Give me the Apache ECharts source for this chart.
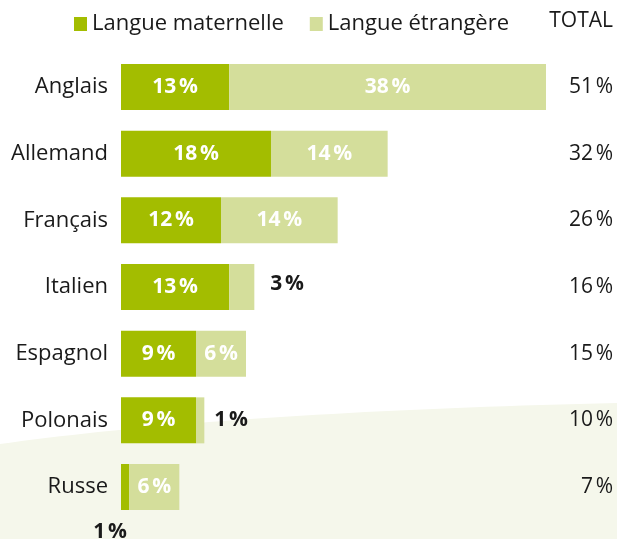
<!DOCTYPE html>
<html><head><meta charset="utf-8">
<script src="https://cdn.jsdelivr.net/npm/echarts@6/dist/echarts.min.js"></script>
<style>html,body{margin:0;padding:0;background:#fff}#c{width:617px;height:539px}</style>
</head><body><div id="c"></div>
<script>
const categories = ['Anglais','Allemand','Français','Italien','Espagnol','Polonais','Russe'];
const maternelle = [13, 18, 12, 13, 9, 9, 1];
const etrangere = [38, 14, 14, 3, 6, 1, 6];
const totals = [51, 32, 26, 16, 15, 10, 7];
const seriesNames = ['Langue maternelle', 'Langue étrangère'];
const totalTitle = 'TOTAL';

const FONT = '"Open Sans", sans-serif';
const DARK = '#a3bd00', LIGHT = '#d4de9b';
const pct = v => v + '\u202F%';
// label placement overrides for small segments (style, not data)
const outside = {
  m: {6: {position: 'bottom', offset: [-15, 6], color: '#1a1a1a'}},
  e: {3: {position: 'right', distance: 16, offset: [0, -3], color: '#1a1a1a'}, 5: {position: 'right', distance: 10, color: '#1a1a1a'}}
};
function items(vals, key) {
  return vals.map((v, i) => {
    const o = outside[key][i];
    return o ? {value: v, label: Object.assign({show: true}, o)} : v;
  });
}
// decorative background curve (quadratic bezier sampled)
const bgPts = [];
for (let k = 0; k <= 40; k++) {
  const t = k / 40;
  const x = 2 * (1 - t) * t * 230 + t * t * 617;
  const y = (1 - t) * (1 - t) * 444 + 2 * (1 - t) * t * 412 + t * t * 403;
  bgPts.push([x, y]);
}
bgPts.push([617, 539], [0, 539]);

const chart = echarts.init(document.getElementById('c'), null, {renderer: 'canvas'});
const W = 8.333;
chart.setOption({
  animation: false,
  textStyle: {fontFamily: FONT},
  graphic: [
    {type: 'polygon', z: -10, silent: true, shape: {points: bgPts}, style: {fill: '#f5f7eb'}},
    {type: 'text', right: 4, top: 11, style: {text: totalTitle, font: '21px ' + FONT, fill: '#1a1a1a'}}
  ],
  legend: {
    left: 69, top: 8, icon: 'rect', itemWidth: 13, itemHeight: 14, itemGap: 26,
    textStyle: {fontSize: 22, color: '#1a1a1a', fontFamily: FONT},
    data: seriesNames
  },
  grid: {left: 121, top: 87 - 33.33, width: W * 55, height: 66.67 * 7},
  xAxis: {type: 'value', min: 0, max: 55, show: false},
  yAxis: [
    {type: 'category', inverse: true, data: categories,
     axisLine: {show: false}, axisTick: {show: false},
     axisLabel: {fontSize: 22, color: '#1a1a1a', margin: 13, fontFamily: FONT}},
    {type: 'category', inverse: true, position: 'right', data: totals.map(pct),
     axisLine: {show: false}, axisTick: {show: false},
     axisLabel: {fontSize: 21, color: '#1a1a1a', align: 'right', margin: 613 - (121 + W * 55), fontFamily: FONT}}
  ],
  series: [
    {name: seriesNames[0], type: 'bar', stack: 't', barWidth: 46, itemStyle: {color: DARK},
     label: {show: true, position: 'inside', color: '#fff', fontWeight: 'bold', fontSize: 21, fontFamily: FONT, formatter: p => pct(p.value)},
     data: items(maternelle, 'm')},
    {name: seriesNames[1], type: 'bar', stack: 't', barWidth: 46, itemStyle: {color: LIGHT},
     label: {show: true, position: 'inside', color: '#fff', fontWeight: 'bold', fontSize: 21, fontFamily: FONT, formatter: p => pct(p.value)},
     data: items(etrangere, 'e')}
  ]
});
</script></body></html>
